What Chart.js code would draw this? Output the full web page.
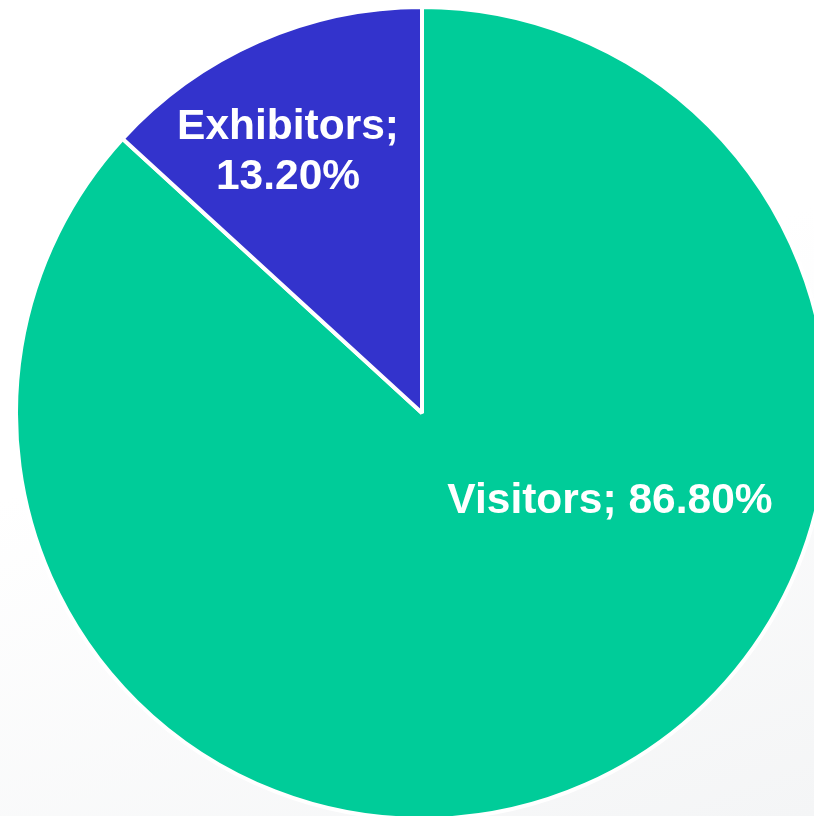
<!DOCTYPE html>
<html>
<head>
<meta charset="utf-8">
<script src="https://cdn.jsdelivr.net/npm/chart.js@4/dist/chart.umd.min.js"></script>
<style>
    html, body {
        margin: 0;
        padding: 0;
        width: 814px;
        height: 816px;
        overflow: hidden;
        background: linear-gradient(160deg, #ffffff 45%, #f4f5f6 100%);
    }
    #wrap {
        position: absolute;
        left: 14px;
        top: 5px;
        width: 816px;
        height: 816px;
    }
</style>
</head>
<body>
<div id="wrap"><canvas id="pieChart"></canvas></div>
<script>
/* =========================
   DATOS
========================= */
const categories = ["Visitors", "Exhibitors"];
const shares = [86.8, 13.2];
const sliceColors = ["#00CC99", "#3333CC"];

/* posicion de etiquetas (fraccion del radio, relativo al centro) */
const labelSpots = [
    { dx: 0.463, dy: 0.247, lines: 1 },
    { dx: -0.330, dy: -0.674, lines: 2 }
];

/* =========================
   ETIQUETAS DENTRO DEL PASTEL
========================= */
const sliceLabels = {
    id: "sliceLabels",
    afterDatasetsDraw(chart) {
        const ctx = chart.ctx;
        const meta = chart.getDatasetMeta(0);

        ctx.save();
        ctx.fillStyle = "#ffffff";
        ctx.font = "bold 42.5px 'Liberation Sans', Arial, sans-serif";
        ctx.textAlign = "center";
        ctx.textBaseline = "alphabetic";

        meta.data.forEach((arc, i) => {
            const r = arc.outerRadius;
            const spot = labelSpots[i];
            const x = arc.x + spot.dx * r;
            const y = arc.y + spot.dy * r;
            const pct = shares[i].toFixed(2) + "%";

            if (spot.lines === 2) {
                ctx.fillText(categories[i] + ";", x, y);
                ctx.fillText(pct, x, y + 50);
            } else {
                ctx.fillText(categories[i] + "; " + pct, x, y);
            }
        });

        ctx.restore();
    }
};

/* =========================
   GRAFICO
========================= */
const ctx = document.getElementById("pieChart").getContext("2d");

new Chart(ctx, {
    type: "pie",
    data: {
        labels: categories,
        datasets: [
            {
                data: shares,
                backgroundColor: sliceColors,
                borderColor: "#ffffff",
                borderWidth: 4
            }
        ]
    },
    options: {
        responsive: true,
        maintainAspectRatio: false,
        animation: false,
        layout: { padding: 0 },
        plugins: {
            legend: { display: false },
            tooltip: { enabled: false }
        }
    },
    plugins: [sliceLabels]
});
</script>
</body>
</html>
